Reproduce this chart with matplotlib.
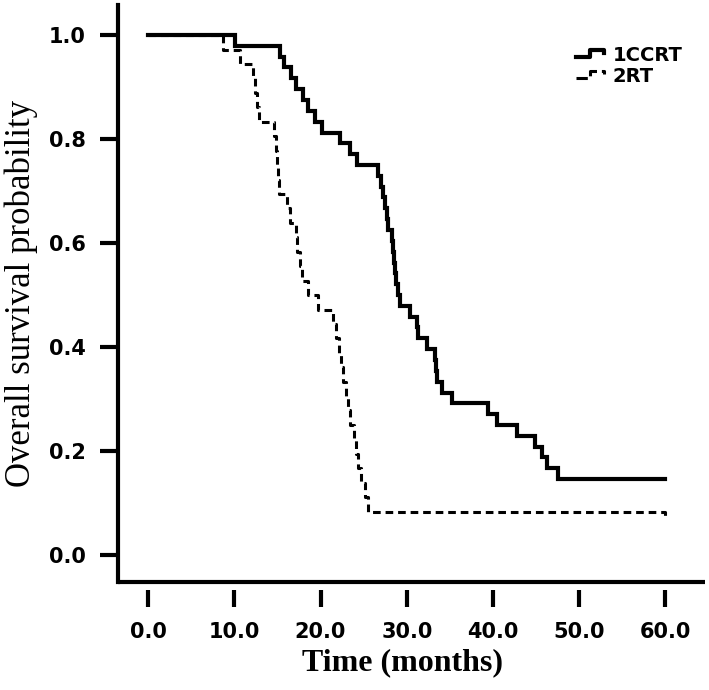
import matplotlib
matplotlib.use('Agg')
import matplotlib.pyplot as plt
from matplotlib.lines import Line2D
from matplotlib.legend_handler import HandlerBase

# Kaplan-Meier curves (time in months, survival)
t_ccrt = [10.1, 15.3, 15.8, 16.6, 17.2, 18.0, 18.5, 19.3, 20.2, 22.3, 23.4, 24.2,
          26.7, 27.0, 27.3, 27.5, 27.7, 27.8, 28.3, 28.4, 28.5, 28.6, 28.7, 29.0,
          29.2, 30.4, 31.2, 31.3, 32.4, 33.3, 33.4, 33.5, 34.1, 35.3, 39.4, 40.5,
          42.8, 44.9, 45.7, 46.3, 47.6]
s_ccrt = [0.979, 0.958, 0.938, 0.917, 0.896, 0.875, 0.854, 0.833, 0.812, 0.792, 0.771, 0.750,
          0.729, 0.708, 0.688, 0.667, 0.646, 0.625, 0.604, 0.583, 0.562, 0.542, 0.521, 0.500,
          0.479, 0.458, 0.438, 0.417, 0.396, 0.375, 0.354, 0.333, 0.312, 0.292, 0.271, 0.250,
          0.229, 0.208, 0.188, 0.167, 0.146]

t_rt = [8.7, 10.6, 12.2, 12.4, 12.6, 12.8, 14.6, 14.8, 14.9, 15.1, 15.2, 16.1, 16.5,
        17.1, 17.3, 17.6, 17.9, 18.5, 19.7, 21.5, 21.8, 22.1, 22.4, 22.6, 22.9, 23.2,
        23.4, 23.9, 24.1, 24.4, 24.7, 25.2, 25.5, 60.0]
s_rt = [0.972, 0.944, 0.917, 0.889, 0.861, 0.833, 0.806, 0.778, 0.750, 0.722, 0.694, 0.667, 0.639,
        0.611, 0.583, 0.556, 0.528, 0.500, 0.472, 0.444, 0.417, 0.389, 0.361, 0.333, 0.306, 0.278,
        0.250, 0.222, 0.194, 0.167, 0.139, 0.111, 0.083, 0.069]

follow_up_end = 60.0
x_ticks = [0, 10, 20, 30, 40, 50, 60]
y_ticks = [0.0, 0.2, 0.4, 0.6, 0.8, 1.0]
labels = ['1CCRT', '2RT']


class StepHandler(HandlerBase):
    # little step icon like the SPSS legend
    def create_artists(self, legend, orig_handle, xdescent, ydescent,
                       width, height, fontsize, trans):
        xs = [0, 0.45 * width, 0.45 * width, 0.9 * width, 0.9 * width]
        ys = [0.3 * height, 0.3 * height, 0.8 * height, 0.8 * height, 0.55 * height]
        ln = Line2D(xs, ys, color=orig_handle.get_color(),
                    lw=orig_handle.get_linewidth(), linestyle=orig_handle.get_linestyle())
        ln.set_transform(trans)
        return [ln]


fig = plt.figure(figsize=(7.09, 6.90), dpi=100)
ax = fig.add_axes([118 / 709, 108 / 690, 587 / 709, 577 / 690])

# curves
x1 = [0] + t_ccrt + [follow_up_end]
y1 = [1.0] + s_ccrt + [s_ccrt[-1]]
x2 = [0] + t_rt
y2 = [1.0] + s_rt
l1, = ax.step(x1, y1, where='post', color='black', lw=3.0, solid_joinstyle='miter')
l2, = ax.step(x2, y2, where='post', color='black', lw=2.2, linestyle=(0, (2.5, 1.6)))

ax.set_xlim(-3.5, 64.6)
ax.set_ylim(-0.052, 1.058)

# axes styling
for s in ['top', 'right']:
    ax.spines[s].set_visible(False)
ax.spines['left'].set_linewidth(3)
ax.spines['bottom'].set_visible(False)
ax.spines['bottom'].set_position(('outward', 6))
ax.plot([0, 1], [0, 0], transform=ax.transAxes, color='black', lw=3,
        clip_on=False, solid_capstyle='butt')

ax.set_xticks(x_ticks)
ax.set_xticklabels([f'{v:.1f}' for v in x_ticks])
ax.set_yticks(y_ticks)
ax.set_yticklabels([f'{v:.1f}' for v in y_ticks])
ax.tick_params(axis='y', direction='out', length=13, width=3, pad=10,
               labelsize=15)
ax.tick_params(axis='x', direction='out', length=12, width=3, pad=11,
               labelsize=15)
for lab in ax.get_xticklabels() + ax.get_yticklabels():
    lab.set_fontweight('bold')

ax.set_xlabel('Time (months)', fontsize=23, fontweight='bold', family='Liberation Serif')
ax.xaxis.set_label_coords(0.485, -0.115)
ax.set_ylabel('Overall survival probability', fontsize=25, family='Liberation Serif')
ax.yaxis.set_label_coords(-0.137, 0.5)

leg = fig.legend([l1, l2], labels, handler_map={Line2D: StepHandler()},
                 loc='upper left', bbox_to_anchor=(566 / 709, 1 - 36 / 690),
                 frameon=False, borderpad=0, handlelength=1.6, handletextpad=0.3,
                 labelspacing=0.1, prop={'weight': 'bold', 'size': 14})

fig.savefig('out.png', dpi=100)
